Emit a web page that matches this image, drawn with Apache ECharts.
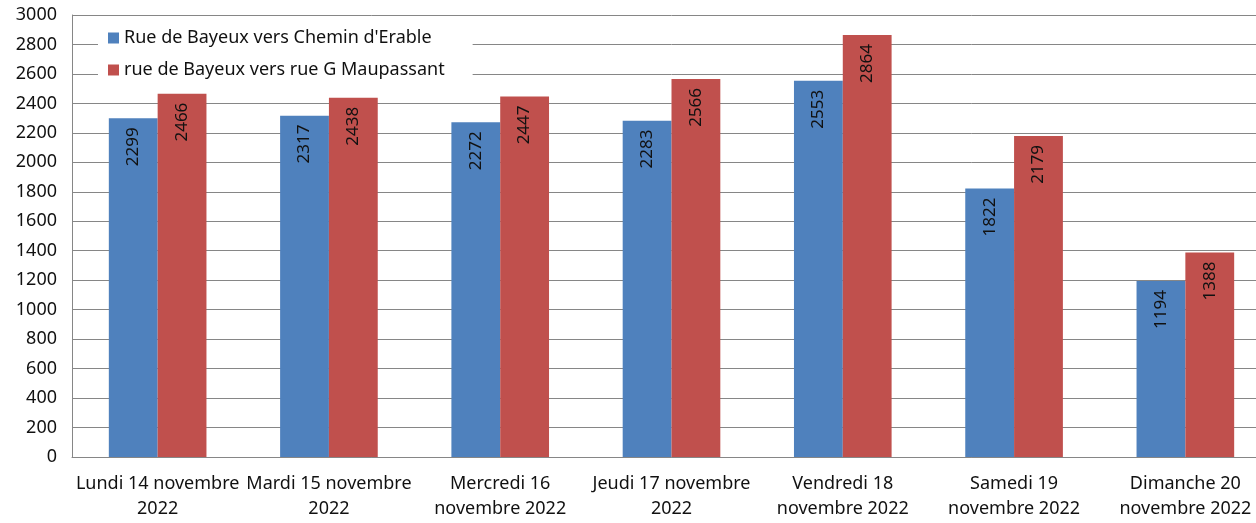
<!DOCTYPE html>
<html>
<head>
<meta charset="utf-8">
<script src="https://cdn.jsdelivr.net/npm/echarts@6/dist/echarts.min.js"></script>
<style>
	html, body { margin: 0; padding: 0; background: #fff; overflow: hidden; }
	/* un peu plus large que la fenêtre : la zone de tracé est coupée à droite, comme dans l'original */
	#chart { width: 1271px; height: 523px; }
</style>
</head>
<body>
<div id="chart"></div>
<script>
const days = [
	'Lundi 14 novembre\n2022',
	'Mardi 15 novembre\n2022',
	'Mercredi 16\nnovembre 2022',
	'Jeudi 17 novembre\n2022',
	'Vendredi 18\nnovembre 2022',
	'Samedi 19\nnovembre 2022',
	'Dimanche 20\nnovembre 2022'
]
const erable = [2299, 2317, 2272, 2283, 2553, 1822, 1194]
const maupassant = [2466, 2438, 2447, 2566, 2864, 2179, 1388]

const font = 'Noto Sans'

// label vertical, lu de bas en haut, collé au sommet de la barre
const barLabel = {
	show: true,
	position: 'insideTop',
	rotate: 90,
	align: 'right',
	verticalAlign: 'middle',
	distance: 9,
	color: '#111',
	fontFamily: font,
	fontSize: 17
}

const myChart = echarts.init(document.getElementById('chart'))
myChart.setOption({
	animation: false,
	textStyle: { fontFamily: font },
	grid: { left: 72, right: 0, top: 15, bottom: 66, containLabel: false },
	legend: {
		orient: 'vertical',
		left: 98,
		top: 24,
		itemWidth: 11,
		itemHeight: 11,
		itemGap: 14,
		icon: 'rect',
		backgroundColor: '#fff',
		padding: [5, 28, 5, 10],
		textStyle: { fontFamily: font, fontSize: 18, color: '#111' },
		data: ['Rue de Bayeux vers Chemin d\'Erable', 'rue de Bayeux vers rue G Maupassant']
	},
	xAxis: {
		type: 'category',
		data: days,
		axisLine: { lineStyle: { color: '#868686' } },
		axisTick: { show: false },
		axisLabel: { color: '#111', fontSize: 18, fontFamily: font, lineHeight: 25, margin: 14, interval: 0 }
	},
	yAxis: {
		type: 'value',
		min: 0,
		max: 3000,
		interval: 200,
		axisLine: { show: true, lineStyle: { color: '#868686' } },
		axisTick: { show: false },
		axisLabel: { color: '#111', fontSize: 18, fontFamily: font, margin: 15, formatter: v => String(v) },
		splitLine: { lineStyle: { color: '#868686' } }
	},
	series: [
		{
			name: 'Rue de Bayeux vers Chemin d\'Erable',
			type: 'bar',
			data: erable,
			barGap: '0%',
			barCategoryGap: '43%',
			itemStyle: { color: '#4F81BD' },
			label: barLabel
		},
		{
			name: 'rue de Bayeux vers rue G Maupassant',
			type: 'bar',
			data: maupassant,
			itemStyle: { color: '#C0504D' },
			label: barLabel
		}
	]
})
</script>
</body>
</html>
